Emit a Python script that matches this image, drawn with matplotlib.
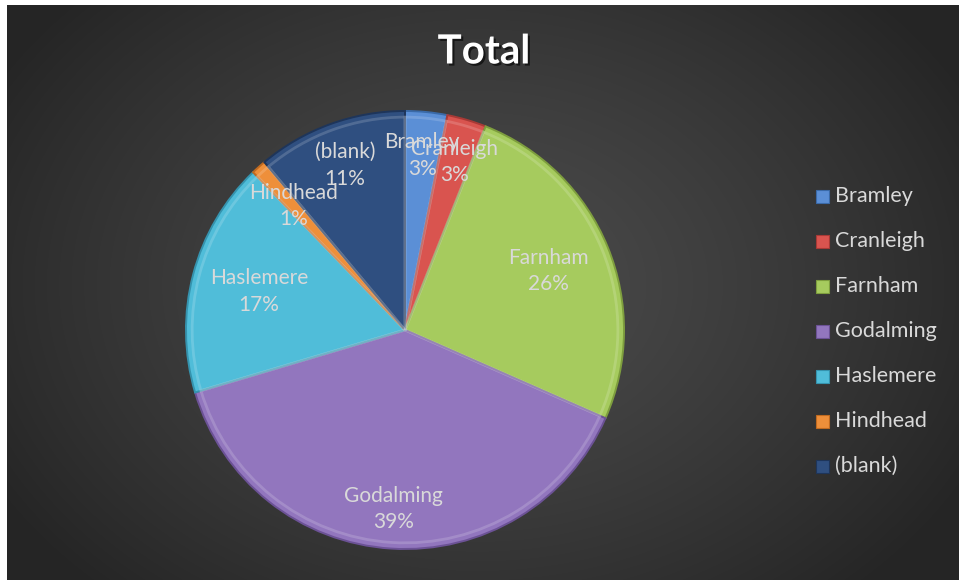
import numpy as np
import matplotlib
matplotlib.use("Agg")
import matplotlib.pyplot as plt
from matplotlib.patches import Rectangle
import matplotlib.patheffects as pe

# ---- data ----
categories = ["Bramley", "Cranleigh", "Farnham", "Godalming", "Haslemere", "Hindhead", "(blank)"]
values = [3.1, 2.9, 25.6, 38.8, 17.4, 1.1, 11.1]
colors = ["#5B8FD6", "#D9544F", "#A6CB5E", "#9276BE", "#50BDD9", "#EE8F3A", "#2F4F80"]
edge_colors = ["#3A6AA8", "#A83A36", "#7E9E3E", "#6C5296", "#3593AE", "#C06A20", "#1E355A"]
label_radius = [0.80, 0.80, 0.71, 0.82, 0.69, 0.76, 0.80]
title = "Total"

W, H = 959, 580
fig = plt.figure(figsize=(W / 100, H / 100), dpi=100)
fig.patch.set_facecolor("white")

# background with radial gradient (chart area)
bg = fig.add_axes([7 / W, 0, 1 - 7 / W, 1 - 5 / H])
bg.set_axis_off()
yy, xx = np.mgrid[0:575, 0:952]
cx, cy = 470, 280
d = np.sqrt(((xx - cx) / 560.0) ** 2 + ((yy - cy) / 420.0) ** 2)
d = np.clip(d, 0, 1)
inner, outer = 0x4B / 255, 0x25 / 255
img = inner + (outer - inner) * d ** 1.3
bg.imshow(np.dstack([img, img, img]), aspect="auto", extent=[0, 1, 0, 1])
bg.set_xlim(0, 1)
bg.set_ylim(0, 1)

font = "Lato"

# pie axes
cxp, cyp, r = 405, 330, 219
ax = fig.add_axes([(cxp - r) / W, (H - cyp - r) / H, 2 * r / W, 2 * r / H])
ax.set_axis_off()

wedges, _ = ax.pie(values, colors=colors, startangle=90, counterclock=False, radius=1.0,
                   wedgeprops=dict(linewidth=1.0, edgecolor="#3a3a3a"))
for w, ec in zip(wedges, edge_colors):
    w.set_edgecolor(ec)
    w.set_linewidth(1.4)

# bevel highlight: thin lighter inner ring
ax.pie(values, colors=["none"] * len(values), startangle=90, counterclock=False, radius=0.972,
       wedgeprops=dict(linewidth=2.0, edgecolor=(1, 1, 1, 0.16), fill=False))

ax.set_xlim(-1, 1)
ax.set_ylim(-1, 1)
ax.set_aspect("equal")

total = sum(values)
cum = 0.0
for cat, v, lr in zip(categories, values, label_radius):
    mid = cum + v / 2
    cum += v
    ang = np.deg2rad(90 - 360 * mid / total)
    x, y = lr * np.cos(ang), lr * np.sin(ang)
    pct = f"{round(100 * v / total):.0f}%"
    ax.text(x, y, f"{cat}\n{pct}", ha="center", va="center", color="#D9D9D9",
            fontsize=15, family=font, linespacing=1.4)

# title
fig.text(484 / W, 1 - 52 / H, title, ha="center", va="center", color="white",
         fontsize=29, fontweight="bold", family=font,
         path_effects=[pe.withSimplePatchShadow(offset=(1.5, -1.5), shadow_rgbFace="black", alpha=0.6)])

# legend
leg_y0 = 196
leg_dy = 45
for i, (cat, col, ec) in enumerate(zip(categories, colors, edge_colors)):
    yc = leg_y0 + i * leg_dy
    fig.patches.append(Rectangle((816 / W, 1 - (yc + 6.5) / H), 13 / W, 13 / H,
                                 transform=fig.transFigure, facecolor=col, edgecolor=ec, linewidth=0.8))
    fig.text(835 / W, 1 - yc / H, cat, ha="left", va="center", color="#D9D9D9",
             fontsize=15.5, family=font)

fig.savefig("out.png", dpi=100, facecolor=fig.get_facecolor())
